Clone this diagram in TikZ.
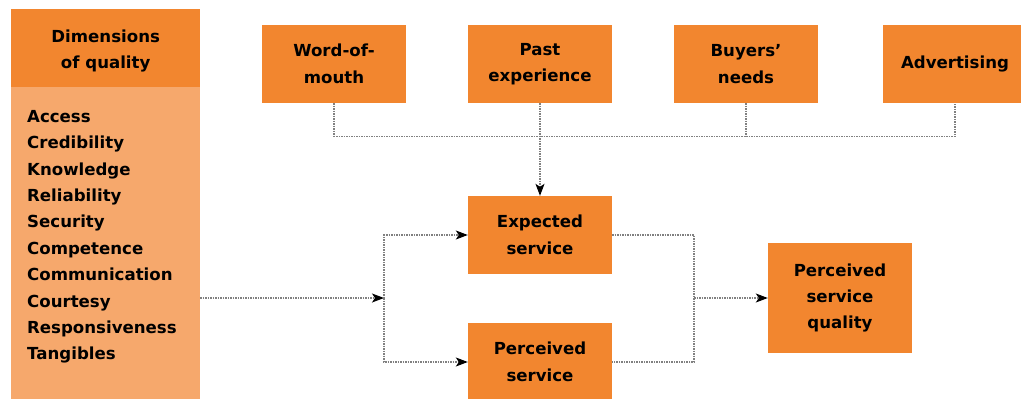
\documentclass[tikz,border=0pt]{standalone}
\usepackage{fontspec}
\setmainfont{DejaVu Sans}
\usetikzlibrary{arrows.meta,positioning,calc}
\definecolor{darkorange}{HTML}{F2862F}
\definecolor{lightorange}{HTML}{F6A86C}

\begin{document}
\begin{tikzpicture}[
  x=1pt, y=-1pt,
  font=\fontsize{16.6}{26.4}\selectfont\bfseries,
  box/.style={fill=darkorange, align=center, inner sep=0pt, minimum width=144pt, minimum height=78pt},
  link/.style={draw=black!50, dash pattern=on 1.5pt off 1pt, line width=1.1pt},
  arrow/.style={link, -{Stealth[black, length=12pt, width=9pt, inset=3pt]}}
]
\useasboundingbox (0,0) rectangle (1021,399);
% dimensions panel
\node[fill=lightorange, inner sep=0pt, minimum width=189pt, minimum height=313pt, anchor=north west] (dims) at (11,87) {};
\node[fill=darkorange, inner sep=0pt, minimum width=189pt, minimum height=78pt, anchor=north west] (head) at (11,9) {};
\node[align=center, inner sep=0pt] (headtxt) at ($(head.center)+(0,3)$) {Dimensions\\of quality};
\node[anchor=north west, align=left, inner sep=0pt] (list) at (27,110) {Access\\Credibility\\Knowledge\\Reliability\\Security\\Competence\\Communication\\Courtesy\\Responsiveness\\Tangibles};

% influences
\node[box] (wom) at (334,64) {Word-of-\\mouth};
\node[box] (past) at (540,64) {Past\\experience};
\node[box] (needs) at (746,64) {Buyers'\\needs};
\node[box] (adv) at (955,64) {Advertising};

% services
\node[box] (exp) at (540,235) {Expected\\service};
\node[box] (perc) at (540,362) {Perceived\\service};
\node[box, minimum height=110pt] (psq) at (840,298) {Perceived\\service\\quality};

\coordinate (split) at (384,298);
\coordinate (join) at (694,298);

\draw[link] (wom.south) -- ++(0,33) -| (adv.south);
\draw[link] (needs.south) -- ++(0,33);
\draw[arrow] (past.south) -- (exp.north);

\draw[arrow] (dims.east |- split) -- (split);
\draw[arrow] (split) |- (exp.west);
\draw[arrow] (split) |- (perc.west);
\draw[link] (exp.east) -| (join) |- (perc.east);
\draw[arrow] (join) -- (psq.west);
\end{tikzpicture}
\end{document}
